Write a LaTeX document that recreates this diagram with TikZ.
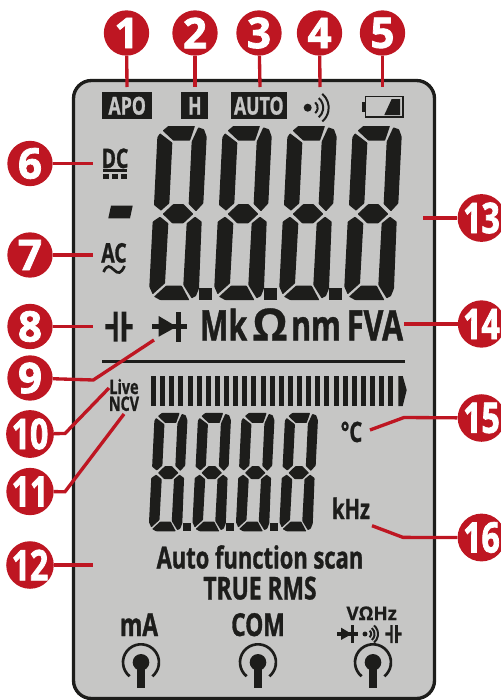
\documentclass[tikz,border=0pt]{standalone}
\usepackage{fontspec}
\setmainfont{Open Sans}
\newfontfamily\lcdfont[FakeStretch=0.72,FakeBold=1.0]{Open Sans}
\newfontfamily\wordfont[FakeBold=0.6]{Open Sans}
\newfontfamily\numfont[FakeBold=1.8]{Open Sans}
\newfontfamily\twonumfont[FakeBold=1.8,FakeStretch=0.76]{Open Sans}
\definecolor{lcdbg}{HTML}{C6C6C5}
\definecolor{lcdink}{HTML}{1D1D1B}
\definecolor{calloutred}{HTML}{BE1622}

\begin{document}
\begin{tikzpicture}[x=0.3mm, y=0.3mm, yscale=-1, every pic/.style={yscale=-1},
	callout/.style={circle, fill=calloutred, text=white, minimum size=13.6mm, inner sep=0pt, font=\numfont\bfseries\fontsize{36}{36}\selectfont},
	calloutb/.style={callout, font=\twonumfont\bfseries\fontsize{36}{36}\selectfont},
	leader/.style={draw=calloutred, line width=1mm},
	lcd/.style={font=\lcdfont\bfseries\fontsize{#1}{#1}\selectfont, text=lcdink, inner sep=0pt, anchor=base},
	wide/.style={font=\wordfont\bfseries\fontsize{#1}{#1}\selectfont, text=lcdink, inner sep=0pt, anchor=base},
	tagbox/.style={fill=lcdink, text=lcdbg, inner sep=0pt, minimum height=8.1mm, font=\lcdfont\bfseries\fontsize{21}{21}\selectfont},
	seg/.style={fill=lcdink, rounded corners=0.5pt},
	pics/lcddigit/.style={code={
		\begin{scope}[scale=1/3]
			\path[seg] (68,32) -- (85,18) -- (165,18) -- (150,62) -- (100,62) -- cycle;
			\path[seg] (60,40) -- (97,68) -- (88,250) -- (63,272) -- (42,255) -- (52,52) -- cycle;
			\path[seg] (175,22) -- (192,28) -- (200,50) -- (190,250) -- (168,274) -- (146,252) -- (155,65) -- cycle;
			\path[seg] (68,282) -- (100,252) -- (130,252) -- (160,282) -- (130,310) -- (97,310) -- cycle;
			\path[seg] (60,290) -- (85,310) -- (75,490) -- (38,523) -- (28,500) -- (38,305) -- cycle;
			\path[seg] (165,290) -- (185,305) -- (177,505) -- (168,528) -- (155,535) -- (130,495) -- (140,310) -- cycle;
			\path[seg] (42,530) -- (78,497) -- (125,497) -- (148,540) -- (60,540) -- cycle;
		\end{scope}
	}},
	pics/lcddot/.style={code={\path[fill=lcdink] (178/3,503/3) rectangle (215/3,540/3);}},
	pics/beeper/.style={code={
		\fill[lcdink] (0,0) circle (4);
		\foreach \r in {7,12.5,18} {\draw[lcdink, line width=0.6mm] (3,0) ++(-50:\r) arc[start angle=-50, end angle=50, radius=\r];}
	}},
	pics/capsym/.style={code={
		\fill[lcdink] (-13.7,-2.6) rectangle (-4,2.6) (4,-2.6) rectangle (13.7,2.6);
		\fill[lcdink] (-5.4,-15) rectangle (-1.4,15) (2.6,-15) rectangle (7.3,15);
	}},
	pics/diodesym/.style={code={
		\fill[lcdink] (0,-2.6) rectangle (34.7,2.6);
		\fill[lcdink] (6.7,-10.7) -- (24.7,0) -- (6.7,10) -- cycle;
		\fill[lcdink] (24,-15) rectangle (29,15);
	}},
	pics/jacksym/.style={code={
		\fill[lcdink] (0,0) circle (8.3);
		\fill[lcdink] (-4.2,0) rectangle (4.2,25.5);
		\draw[lcdink, line width=0.8mm] (129:18) arc[start angle=129, end angle=411, radius=18];
	}}]
	\useasboundingbox (0,0) rectangle (501,700);
	\draw[fill=lcdbg, draw=lcdink, line width=1mm, rounded corners=5.4mm] (73.5,80.5) rectangle (434.5,698.5);

	% top tags and battery
	\node[tagbox, minimum width=14.9mm] (apo) at (127.2,105.8) {APO};
	\node[tagbox, minimum width=8.1mm] (hold) at (194.8,105.8) {H};
	\node[tagbox, minimum width=16.7mm] (auto) at (258.8,105.8) {AUTO};
	\pic at (307.7,107.7) {beeper};
	\draw[lcdink, line width=0.45mm] (365.7,96.6) rectangle (403,117);
	\fill[lcdink] (361.7,101.7) rectangle (365.7,112);
	\fill[lcdink] (391.7,99) -- (400,99) -- (400,115) -- (384.3,115) -- cycle;

	% main readout
	\foreach \x in {140,205,270,335} {\pic at (\x,120) {lcddigit};}
	\foreach \x in {140,205,270} {\pic at (\x,120) {lcddot};}
	\fill[lcdink] (111,205.7) -- (132.7,205.7) -- (130,218.3) -- (108.3,218.3) -- cycle;

	% left column
	\node[lcd=23] (dc) at (115,168) {DC};
	\fill[lcdink] (103,169.3) rectangle (127,172.3);
	\foreach \x in {103,112,121} {\fill[lcdink] (\x,173.7) rectangle (\x+6,178.7);}
	\node[lcd=23] (ac) at (114,262.5) {AC};
	\draw[lcdink, line width=0.8mm] (103.5,272) .. controls (107,264) and (110,266) .. (114,270) .. controls (118,274) and (121,274) .. (124.5,266);
	\pic at (119,326.7) {capsym};
	\pic at (152,326.7) {diodesym};

	% units
	\node[lcd=36] (mk) at (223.5,340.5) {Mk};
	\node[wide=38] (ohm) at (270,340.5) {Ω};
	\node[lcd=36] (nm) at (316,340.5) {nm};
	\node[lcd=36] (fva) at (375,340.5) {FVA};
	\draw[lcdink, line width=0.85mm] (102,361.7) -- (405,361.7);

	% bar graph
	\foreach \i in {0,...,26} {\fill[lcdink] ({151+\i*9.127},376) rectangle ({156+\i*9.127},406);}
	\fill[lcdink] (398.3,376) -- (402.7,376) -- (406.7,390) -- (402.7,406) -- (398.3,406) -- cycle;
	\node[lcd=17, align=center, anchor=center] (ncv) at (124,395) {Live\\[-2.6pt]NCV};

	% lower readout
	\foreach \x in {0,43.5,87,130.5} {\pic[xscale=0.67, yscale=0.68] at (142.75+\x,408.9) {lcddigit};}
	\foreach \x in {0,43.5,87} {\pic[xscale=0.67, yscale=0.68] at (142.75+\x,408.9) {lcddot};}
	\node[lcd=24] (degc) at (351.5,442) {°C};
	\node[lcd=24] (khz) at (351,519) {kHz};
	\node[lcd=26] (scan) at (260,568.5) {Auto function scan};
	\node[lcd=27] (rms) at (260,599.5) {TRUE RMS};

	% inputs
	\node[lcd=27] (ma) at (139,636) {mA};
	\node[lcd=27] (com) at (258,636) {COM};
	\node[wide=16] (vohz) at (371.7,620) {VΩHz};
	\pic[scale=0.585] at (337.3,634) {diodesym};
	\pic[scale=0.62] at (365,634) {beeper};
	\pic[scale=0.6] at (393.5,634) {capsym};
	\foreach \x in {141,258,373} {\pic at (\x,662.3) {jacksym};}

	% free ends and bends of the leaders
	\foreach \n/\x/\y in {1/127/87, 2/195/87, 3/260/87, 4/320/87, 5/382.5/87, 6/93/163.5, 7/93/255, 8/93/326.5, 12/93/565, 13/422.7/218, 14/404/324} {\coordinate (t\n) at (\x,\y);}
	\coordinate (b9) at (93.3,380); \coordinate (t9) at (154,340);
	\coordinate (b10) at (65,433.5); \coordinate (t10) at (109,388);
	\coordinate (b11) at (65,491.7); \coordinate (t11) at (124,414);
	\coordinate (b15) at (404,417.5); \coordinate (t15) at (370,430);
	\coordinate (b16) at (403,537.4); \coordinate (t16) at (372,525.7);

	% callouts
	\foreach \n/\x/\y in {1/126.5/33, 2/195/33, 3/259/33, 4/319.5/33, 5/382.5/33, 6/30/163.5, 7/30/255, 8/30/326.5, 9/30/378} {\node[callout] (c\n) at (\x,\y) {\n};}
	\foreach \n/\x/\y in {10/30/434, 11/30/491.5, 12/30/565, 13/481.5/218, 14/481.5/324, 15/481.5/418, 16/481.5/537.5} {\node[calloutb] (c\n) at (\x,\y) {\n};}

	\foreach \n in {1,...,8,12,13,14} {\draw[leader] (c\n) -- (t\n);}
	\foreach \n in {9,10,11,15,16} {\draw[leader] (c\n) -- (b\n) -- (t\n);}
\end{tikzpicture}
\end{document}
